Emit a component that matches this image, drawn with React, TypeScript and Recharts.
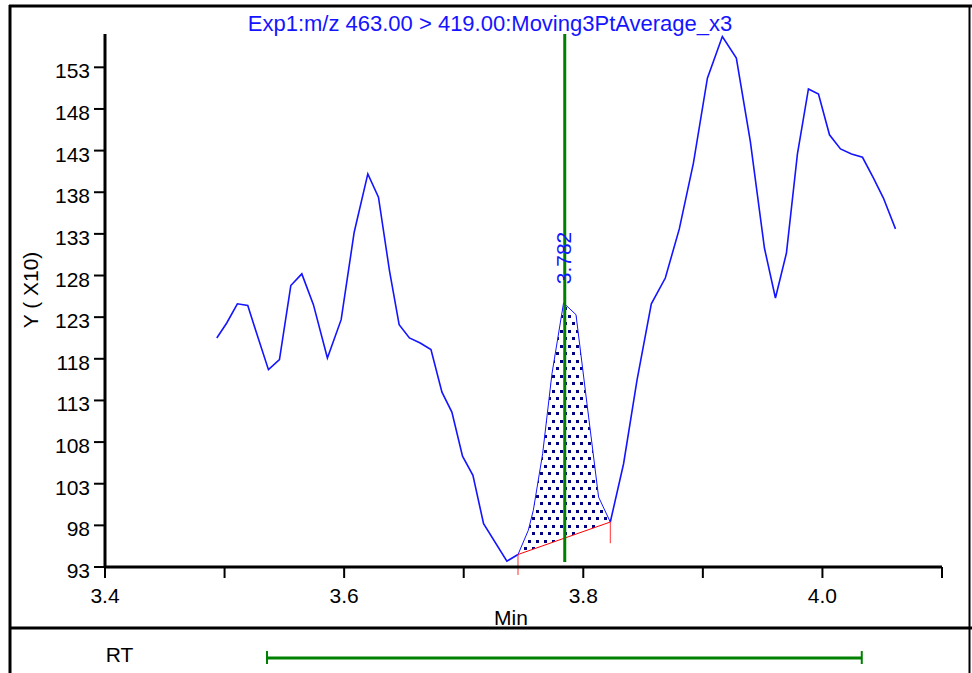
import React from 'react';
import { ComposedChart, Line, Area, XAxis, YAxis, ReferenceLine } from 'recharts';

const TITLE = 'Exp1:m/z 463.00 > 419.00:Moving3PtAverage_x3';

// retention time (min)
const TIMES = [
  3.4935, 3.5018, 3.5107, 3.5194, 3.5283, 3.5367, 3.5459, 3.5554, 3.5646, 3.5743,
  3.586, 3.5975, 3.6084, 3.6198, 3.6287, 3.6379, 3.646, 3.6546, 3.6636, 3.6726,
  3.6818, 3.6901, 3.699, 3.7077, 3.7166, 3.7361, 3.7454, 3.754, 3.7582, 3.766,
  3.7738, 3.7835, 3.7939, 3.8031, 3.8128, 3.8226, 3.8337, 3.8449, 3.8569, 3.8686,
  3.8803, 3.8921, 3.9038, 3.9163, 3.928, 3.9397, 3.9515, 3.9607, 3.9699, 3.9791,
  3.9883, 3.9967, 4.0059, 4.0151, 4.0243, 4.0335, 4.0427, 4.051, 4.0611,
];

// intensity (x10)
const INTENSITY = [
  120.5, 122.3, 124.6, 124.4, 120.4, 116.7, 117.9, 126.8, 128.2, 124.5,
  118.1, 122.7, 133.2, 140.2, 137.4, 128.6, 122.1, 120.5, 119.9, 119.1,
  114.0, 111.6, 106.3, 104.0, 98.2, 93.7, 94.5, 97.4, 99.8, 106.6,
  116.2, 124.7, 123.3, 112.6, 101.4, 98.4, 105.4, 115.4, 124.6, 127.7,
  133.6, 141.5, 151.7, 156.7, 154.1, 144.1, 131.3, 125.3, 130.7, 142.6,
  150.4, 149.8, 144.9, 143.2, 142.6, 142.2, 139.7, 137.3, 133.6,
];

const PEAK_START = 26;
const PEAK_END = 35;
const APEX_TIME = 3.7845;
const APEX_LABEL = '3.782';
const RT_RANGE = [3.5355, 4.0329];

const X_TICKS = [3.4, 3.5, 3.6, 3.7, 3.8, 3.9, 4.0, 4.1];
const X_LABELED = [3.4, 3.6, 3.8, 4.0];
const Y_TICKS = [93, 98, 103, 108, 113, 118, 123, 128, 133, 138, 143, 148, 153];

const FONT = '"Liberation Sans", Arial, sans-serif';
const BLUE = '#1414ff';
const GREEN = '#008000';

const t0 = TIMES[PEAK_START];
const t1 = TIMES[PEAK_END];
const b0 = INTENSITY[PEAK_START];
const b1 = INTENSITY[PEAK_END];
const baseAt = (t: number) => b0 + ((t - t0) / (t1 - t0)) * (b1 - b0);

const traceData = TIMES.map((t, i) => ({
  t,
  y: i > PEAK_START && i < PEAK_END ? null : INTENSITY[i],
}));

const peakData = TIMES.slice(PEAK_START, PEAK_END + 1).map((t, i) => ({
  t,
  y: INTENSITY[PEAK_START + i],
  band: [baseAt(t), INTENSITY[PEAK_START + i]],
}));

const ApexLabel = (props: any) => {
  const { viewBox } = props;
  const x = viewBox.x + 6;
  const y = viewBox.y + 224;
  return (
    <text
      x={x}
      y={y}
      transform={`rotate(-90 ${x} ${y})`}
      textAnchor="middle"
      fill={BLUE}
      fontSize={21}
      fontFamily={FONT}
    >
      {APEX_LABEL}
    </text>
  );
};

const YLabel = (props: any) => {
  const { viewBox } = props;
  const x = viewBox.x + 38;
  const y = viewBox.y + 256;
  return (
    <text
      x={x}
      y={y}
      transform={`rotate(-90 ${x} ${y})`}
      textAnchor="middle"
      fill="#000"
      fontSize={21}
      fontFamily={FONT}
    >
      Y ( X10)
    </text>
  );
};

const XLabel = (props: any) => {
  const { viewBox } = props;
  return (
    <text
      x={viewBox.x + 406}
      y={viewBox.y + 58}
      textAnchor="middle"
      fill="#000"
      fontSize={21}
      fontFamily={FONT}
    >
      Min
    </text>
  );
};

const YTick = (props: any) => {
  const { x, y, payload } = props;
  return (
    <text x={x} y={y + 11} textAnchor="end" fill="#000" fontSize={21} fontFamily={FONT}>
      {payload.value}
    </text>
  );
};

const tickStyle = { fill: '#000', fontSize: 21, fontFamily: FONT };

export default function App() {
  return (
    <div style={{ position: 'absolute', left: 0, top: 0, width: 972, height: 673, background: '#fff' }}>
      <ComposedChart width={972} height={673} margin={{ top: 34, right: 30, left: 0, bottom: 0 }}>
        <defs>
          <pattern id="dots" patternUnits="userSpaceOnUse" width={8} height={15}>
            <rect x={0} y={0} width={3} height={3} fill="#000080" shapeRendering="crispEdges" />
            <rect x={4} y={7} width={3} height={3} fill="#000080" shapeRendering="crispEdges" />
          </pattern>
        </defs>
        <XAxis
          type="number"
          dataKey="t"
          domain={[3.4, 4.1]}
          ticks={X_TICKS}
          interval={0}
          allowDataOverflow
          height={106}
          tickSize={11}
          tickMargin={10}
          tickFormatter={(v: number) => (X_LABELED.some((l) => Math.abs(l - v) < 1e-6) ? v.toFixed(1) : '')}
          tick={tickStyle}
          axisLine={{ stroke: '#000', strokeWidth: 3 }}
          tickLine={{ stroke: '#000', strokeWidth: 2 }}
          label={<XLabel />}
        />
        <YAxis
          type="number"
          domain={[93, 157]}
          ticks={Y_TICKS}
          interval={0}
          allowDataOverflow
          width={105}
          tickSize={11}
          tickMargin={4}
          tick={<YTick />}
          axisLine={{ stroke: '#000', strokeWidth: 3 }}
          tickLine={{ stroke: '#000', strokeWidth: 2 }}
          label={<YLabel />}
        />
        <Area
          data={peakData}
          dataKey="band"
          type="linear"
          stroke="none"
          fill="url(#dots)"
          fillOpacity={1}
          isAnimationActive={false}
        />
        <Line
          data={peakData}
          dataKey="y"
          type="linear"
          stroke={BLUE}
          strokeWidth={1}
          dot={false}
          activeDot={false}
          isAnimationActive={false}
        />
        <Line
          data={traceData}
          dataKey="y"
          type="linear"
          stroke={BLUE}
          strokeWidth={1.6}
          dot={false}
          activeDot={false}
          connectNulls={false}
          isAnimationActive={false}
        />
        <ReferenceLine
          segment={[{ x: t0, y: b0 }, { x: t1, y: b1 }]}
          stroke="#ff0000"
          strokeWidth={1}
          ifOverflow="visible"
        />
        <ReferenceLine
          segment={[{ x: t0, y: b0 }, { x: t0, y: 92.04 }]}
          stroke="#ff3030"
          strokeWidth={1}
          ifOverflow="visible"
        />
        <ReferenceLine
          segment={[{ x: t1, y: b1 }, { x: t1, y: 95.85 }]}
          stroke="#ff3030"
          strokeWidth={1}
          ifOverflow="visible"
        />
        <ReferenceLine
          segment={[{ x: APEX_TIME, y: 93.6 }, { x: APEX_TIME, y: 157 }]}
          stroke={GREEN}
          strokeWidth={3}
          ifOverflow="visible"
          label={<ApexLabel />}
        />
        <ReferenceLine
          segment={[{ x: RT_RANGE[0], y: 82.07 }, { x: RT_RANGE[1], y: 82.07 }]}
          stroke={GREEN}
          strokeWidth={3}
          ifOverflow="visible"
        />
        <ReferenceLine
          segment={[{ x: RT_RANGE[0], y: 82.91 }, { x: RT_RANGE[0], y: 81.35 }]}
          stroke={GREEN}
          strokeWidth={2}
          ifOverflow="visible"
        />
        <ReferenceLine
          segment={[{ x: RT_RANGE[1], y: 82.91 }, { x: RT_RANGE[1], y: 81.35 }]}
          stroke={GREEN}
          strokeWidth={2}
          ifOverflow="visible"
        />
      </ComposedChart>
      <svg
        width={972}
        height={673}
        style={{ position: 'absolute', left: 0, top: 0, pointerEvents: 'none' }}
      >
        <line x1={9} y1={6} x2={972} y2={6} stroke="#000" strokeWidth={3} />
        <line x1={10} y1={5} x2={10} y2={673} stroke="#000" strokeWidth={3} />
        <line x1={969.5} y1={5} x2={969.5} y2={673} stroke="#000" strokeWidth={2} />
        <line x1={9} y1={628} x2={972} y2={628} stroke="#000" strokeWidth={3} />
        <text x={490} y={31} textAnchor="middle" fill={BLUE} fontSize={22} fontFamily={FONT}>
          {TITLE}
        </text>
        <text x={119.5} y={662} textAnchor="middle" fill="#000" fontSize={21} fontFamily={FONT}>
          RT
        </text>
      </svg>
    </div>
  );
}
